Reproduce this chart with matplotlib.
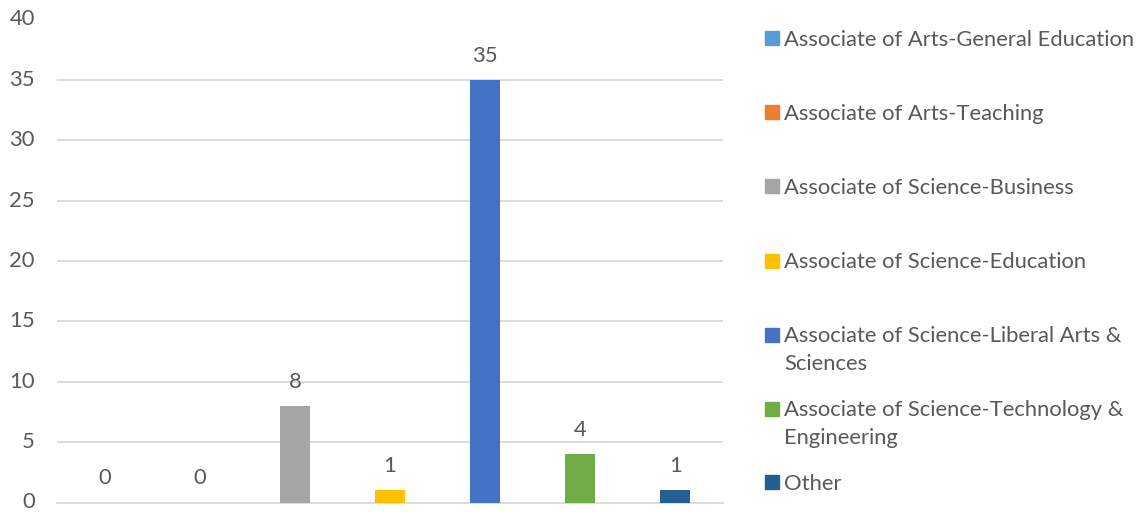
import matplotlib
matplotlib.use("Agg")
import matplotlib.pyplot as plt
import matplotlib.transforms as mtransforms
from matplotlib.patches import Rectangle

categories = [
    "Associate of Arts-General Education",
    "Associate of Arts-Teaching",
    "Associate of Science-Business",
    "Associate of Science-Education",
    "Associate of Science-Liberal Arts &\nSciences",
    "Associate of Science-Technology &\nEngineering",
    "Other",
]
values = [0, 0, 8, 1, 35, 4, 1]
colors = ["#5B9BD5", "#ED7D31", "#A5A5A5", "#FFC000", "#4472C4", "#70AD47", "#255E91"]
yticks = [0, 5, 10, 15, 20, 25, 30, 35, 40]

W, H = 1138, 512
plt.rcParams['font.family'] = ['Lato', 'DejaVu Sans']
text_color = "#595959"
fs = 15.8

fig = plt.figure(figsize=(W / 100, H / 100), dpi=100)
ax = fig.add_axes([57 / W, 1 - 502.5 / H, (723 - 57) / W, (502.5 - 19.5) / H])

x = list(range(len(values)))
ax.bar(x, values, width=0.315, color=colors, zorder=3)
ax.set_xlim(-0.5, len(values) - 0.5)
ax.set_ylim(0, 40)
ax.set_yticks(yticks)
ax.set_yticklabels([str(t) for t in yticks], fontsize=fs, color=text_color)
ax.set_xticks([])
ax.tick_params(axis='y', length=0, pad=16)
shift = mtransforms.ScaledTranslation(0, 2 / 100, fig.dpi_scale_trans)
for lbl in ax.get_yticklabels():
    lbl.set_transform(lbl.get_transform() + shift)
ax.grid(axis='y', color="#D9D9D9", linewidth=1.3, zorder=0)
for s in ["top", "right", "left"]:
    ax.spines[s].set_visible(False)
ax.spines["bottom"].set_color("#D9D9D9")
ax.spines["bottom"].set_linewidth(1.3)
ax.spines["bottom"].set_zorder(2)

for xi, v in zip(x, values):
    ax.annotate(str(v), (xi, v), xytext=(0, 18), textcoords="offset pixels",
                ha="center", va="baseline", fontsize=fs, color=text_color)

# legend (manual, Excel-style)
first_line_y = [38, 112, 186, 261, 335, 409, 482]
line_step = 28
for lab, c, yc in zip(categories, colors, first_line_y):
    fig.add_artist(Rectangle((765 / W, 1 - (yc + 7) / H), 14 / W, 14 / H,
                             transform=fig.transFigure, color=c))
    for k, line in enumerate(lab.split("\n")):
        fig.text(784 / W, 1 - (yc + 7.5 + k * line_step) / H, line, ha="left",
                 va="baseline", fontsize=fs, color=text_color)

fig.savefig("out.png", dpi=100)
